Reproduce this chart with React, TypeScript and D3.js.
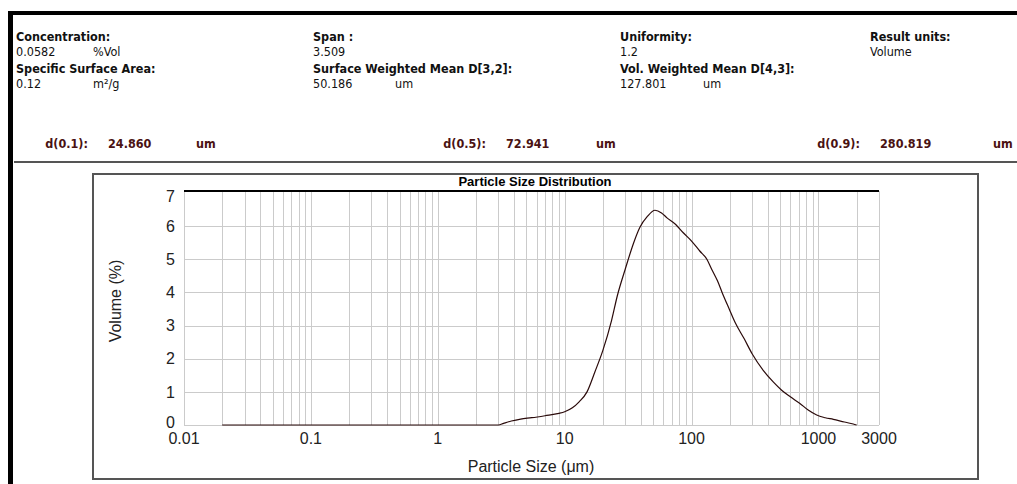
import React, { useEffect, useRef } from "react";
import * as d3 from "d3";

// particle size distribution (um, volume %)
const sizes = [
  0.02, 0.1, 1, 3, 3.3, 3.8, 4.5, 5.5, 7, 9, 10, 11.5, 13, 15, 17.3, 20, 23.4,
  26, 30, 35, 39, 45, 51.5, 58, 64, 75, 86, 100, 116, 132, 144, 160, 174, 198,
  220, 260, 300, 367, 440, 513, 600, 714, 830, 968, 1130, 1309, 1600, 1880, 2000,
];
const volumes = [
  0, 0, 0, 0, 0.05, 0.12, 0.18, 0.22, 0.28, 0.35, 0.4, 0.52, 0.7, 1.0, 1.6,
  2.25, 3.15, 3.9, 4.7, 5.5, 5.95, 6.3, 6.48, 6.4, 6.25, 6.05, 5.8, 5.55, 5.25,
  5.0, 4.7, 4.35, 4.0, 3.5, 3.1, 2.6, 2.15, 1.65, 1.3, 1.05, 0.85, 0.65, 0.45,
  0.3, 0.22, 0.17, 0.09, 0.03, 0,
];

const yTicks = [0, 1, 2, 3, 4, 5, 6, 7];
const xTickValues = [0.01, 0.1, 1, 10, 100, 1000, 3000];
const xTickLabels = ["0.01", "0.1", "1", "10", "100", "1000", "3000"];

const headTitles = ["Concentration:", "Span :", "Uniformity:", "Result units:"];
const headValues = ["0.0582", "3.509", "1.2", "Volume"];
const headUnits = ["%Vol", "", "", ""];
const head2Titles = ["Specific Surface Area:", "Surface Weighted Mean D[3,2]:", "Vol. Weighted Mean D[4,3]:"];
const head2Values = ["0.12", "50.186", "127.801"];
const head2Units = ["m²/g", "um", "um"];

const dLabels = ["d(0.1):", "d(0.5):", "d(0.9):"];
const dValues = ["24.860", "72.941", "280.819"];

const font = "Arial, 'Liberation Sans', sans-serif";
const headFont = "'DejaVu Sans Condensed', 'DejaVu Sans', sans-serif";

export default function App() {
  const ref = useRef<SVGSVGElement | null>(null);

  useEffect(() => {
    const svg = d3.select(ref.current);
    svg.selectAll("*").remove();

    // page frame
    svg.append("rect").attr("x", 8).attr("y", 11).attr("width", 1009).attr("height", 4).attr("fill", "#000");
    svg.append("rect").attr("x", 8).attr("y", 11).attr("width", 5).attr("height", 473).attr("fill", "#000");

    const colX = [16, 313, 620, 870];
    const unitX = [93, 0, 0, 0];
    const unit2X = [93, 395, 703];

    const hdr = svg.append("g").attr("font-family", headFont).attr("font-stretch", "condensed")
      .attr("font-size", 12.5).attr("fill", "#111");
    headTitles.forEach((t, i) => {
      hdr.append("text").attr("x", colX[i]).attr("y", 41).attr("font-weight", "bold").text(t);
      hdr.append("text").attr("x", colX[i]).attr("y", 56).text(headValues[i]);
      if (headUnits[i]) hdr.append("text").attr("x", unitX[i]).attr("y", 56).text(headUnits[i]);
    });
    head2Titles.forEach((t, i) => {
      hdr.append("text").attr("x", colX[i]).attr("y", 73).attr("font-weight", "bold").text(t);
      hdr.append("text").attr("x", colX[i]).attr("y", 88).text(head2Values[i]);
      hdr.append("text").attr("x", unit2X[i]).attr("y", 88).text(head2Units[i]);
    });

    const dValueX = [108, 506, 880];
    const dUnitX = [196, 596, 993];
    const dg = svg.append("g").attr("font-family", headFont).attr("font-stretch", "condensed")
      .attr("font-size", 12.5).attr("font-weight", "bold").attr("fill", "#4a1212");
    dLabels.forEach((t, i) => {
      dg.append("text").attr("x", dValueX[i] - 20).attr("y", 148).attr("text-anchor", "end").text(t);
      dg.append("text").attr("x", dValueX[i]).attr("y", 148).text(dValues[i]);
      dg.append("text").attr("x", dUnitX[i]).attr("y", 148).text("um");
    });

    svg.append("line").attr("x1", 14).attr("x2", 1017).attr("y1", 162).attr("y2", 162)
      .attr("stroke", "#555").attr("stroke-width", 2);

    // chart box
    svg.append("rect").attr("x", 93).attr("y", 174).attr("width", 885).attr("height", 305)
      .attr("fill", "none").attr("stroke", "#555").attr("stroke-width", 2);

    const x = d3.scaleLog().domain([0.01, 3000]).range([184, 879]);
    const y = d3.scaleLinear().domain([0, 7]).range([425, 193]);

    // grid
    const minor: number[] = [];
    for (let k = -2; k <= 3; k++) {
      for (let m = 1; m <= 9; m++) {
        const v = m * Math.pow(10, k);
        if (v <= 3000) minor.push(v);
      }
    }
    const grid = svg.append("g").attr("stroke", "#cbcbcb").attr("stroke-width", 1);
    grid.selectAll("line.v").data(minor).join("line")
      .attr("x1", (d) => Math.round(x(d)) + 0.5).attr("x2", (d) => Math.round(x(d)) + 0.5)
      .attr("y1", 191).attr("y2", y(0));
    grid.selectAll("line.h").data(yTicks.slice(0, 7)).join("line")
      .attr("x1", x(0.01)).attr("x2", x(3000))
      .attr("y1", (d) => Math.round(y(d)) + 0.5).attr("y2", (d) => Math.round(y(d)) + 0.5);

    svg.append("line").attr("x1", x(0.01)).attr("x2", x(3000)).attr("y1", 191).attr("y2", 191)
      .attr("stroke", "#000").attr("stroke-width", 2);

    svg.append("text").attr("x", 535).attr("y", 186).attr("text-anchor", "middle")
      .attr("font-family", font).attr("font-size", 13).attr("font-weight", "bold").attr("fill", "#000")
      .text("Particle Size Distribution");

    // ticks
    const tk = svg.append("g").attr("font-family", font).attr("font-size", 16).attr("fill", "#222");
    tk.selectAll("text.y").data(yTicks).join("text")
      .attr("x", 175).attr("y", (d) => (d === 7 ? y(d) + 3 : d === 0 ? y(d) - 3 : y(d))).attr("dy", "0.36em").attr("text-anchor", "end")
      .text((d) => String(d));
    tk.selectAll("text.x").data(xTickValues).join("text")
      .attr("x", (d) => x(d)).attr("y", 444).attr("text-anchor", "middle")
      .text((d, i) => xTickLabels[i]);

    tk.append("text").attr("transform", "translate(121,301) rotate(-90)").attr("text-anchor", "middle")
      .text("Volume (%)");
    tk.append("text").attr("x", 531).attr("y", 472).attr("text-anchor", "middle")
      .text("Particle Size (μm)");

    // distribution curve
    const pts = sizes.map((s, i) => [s, volumes[i]] as [number, number]);
    const line = d3.line<[number, number]>()
      .x((d) => x(d[0])).y((d) => y(d[1]))
      .curve(d3.curveMonotoneX);
    svg.append("path").attr("d", line(pts) as string)
      .attr("fill", "none").attr("stroke", "#2a0a0a").attr("stroke-width", 1.2);
  }, []);

  return (
    <svg ref={ref} width={1017} height={484}
      style={{ position: "absolute", left: 0, top: 0, background: "#fff" }} />
  );
}
